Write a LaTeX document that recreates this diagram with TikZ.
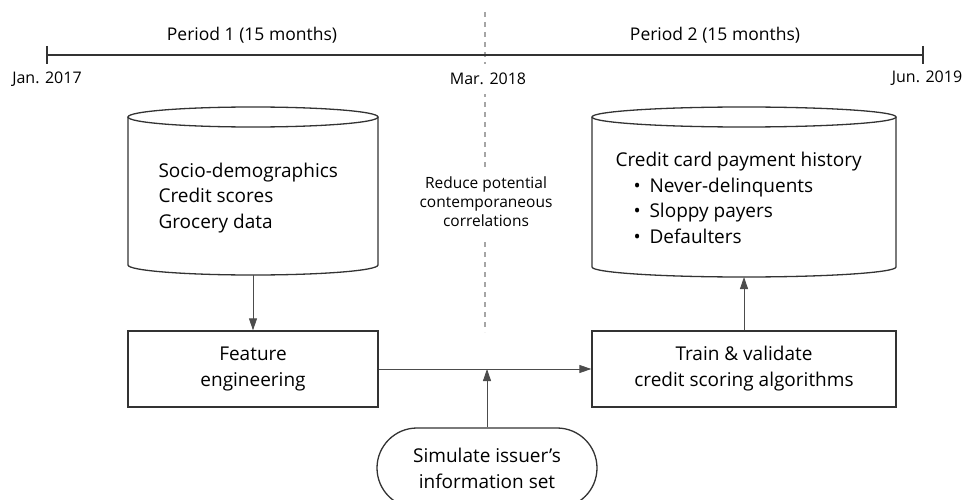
\documentclass[tikz,border=0pt]{standalone}
\usepackage{fontspec}
\setmainfont{Open Sans}
\usetikzlibrary{arrows.meta}

\tikzset{
  box/.style={draw=black!80, line width=1.3pt, minimum height=76pt, align=center,
    font=\fontsize{19}{26}\selectfont},
  link/.style={draw=black!70, line width=0.8pt, -{Triangle[length=12pt,width=8pt]}},
  datelabel/.style={font=\fontsize{16}{20}\selectfont},
  periodlabel/.style={font=\fontsize{17.5}{21}\selectfont},
  drumtext/.style={anchor=west, align=left, font=\fontsize{19}{25.5}\selectfont},
}

% cylinder outline round node #1, half width #2
\newcommand{\drum}[2]{%
  \draw[black!80, line width=1.3pt] ([yshift=-10pt]#1.north west) -- ([yshift=10pt]#1.south west)
    arc[start angle=180, end angle=360, x radius=#2, y radius=10pt]
    -- ([yshift=-10pt]#1.north east);
  \draw[black!80, line width=1.3pt] ([yshift=-10pt]#1.north) ellipse[x radius=#2, y radius=10pt];
}

\begin{document}
\begin{tikzpicture}[x=1pt, y=1pt]
    \useasboundingbox (0,0) rectangle (971,-500);

    % Period split
    \draw[black!35, line width=1.2pt, dash pattern=on 5pt off 5pt] (485,-12) -- (485,-332);

    % Timeline
    \coordinate (t0) at (47,-55);
    \coordinate (t1) at (923,-55);
    \draw[black!80, line width=1.3pt] (t0) -- (t1);
    \draw[black!80, line width=1.3pt] (47,-46) -- (47,-64);
    \draw[black!80, line width=1.3pt] (923,-46) -- (923,-64);

    \node[periodlabel] (p1) at (252,-35) {Period 1 (15 months)};
    \node[periodlabel] (p2) at (715,-35) {Period 2 (15 months)};
    \node[datelabel] (jan) at (47,-79) {Jan. 2017};
    \node[datelabel, fill=white, inner sep=9pt] (mar) at (488,-79) {Mar. 2018};
    \node[datelabel] (jun) at (927,-78) {Jun. 2019};

    % Data sources
    \node[minimum width=250pt, minimum height=168pt, outer sep=0pt] (src) at (253,-191) {};
    \drum{src}{125pt}
    \node[drumtext] (srctext) at (155,-198) {Socio-demographics\\Credit scores\\Grocery data};

    \node[minimum width=304pt, minimum height=170pt, outer sep=0pt] (hist) at (744,-192) {};
    \drum{hist}{152pt}
    \node[drumtext] (histtext) at (612,-198)
      {Credit card payment history\\
       \hspace*{18pt}\makebox[16pt][l]{•}Never-delinquents\\
       \hspace*{18pt}\makebox[16pt][l]{•}Sloppy payers\\
       \hspace*{18pt}\makebox[16pt][l]{•}Defaulters};

    \node[fill=white, inner sep=10pt, align=center, font=\fontsize{15.5}{19}\selectfont] (gap) at (486,-202)
      {Reduce potential\\contemporaneous\\correlations};

    % Steps
    \node[box, minimum width=250pt] (feat) at (253,-369) {Feature\\engineering};
    \node[box, minimum width=304pt] (train) at (744,-369) {Train \& validate\\credit scoring algorithms};
    \node[box, minimum width=220pt, minimum height=80pt, rounded corners=40pt] (sim) at (487,-468)
      {Simulate issuer’s\\information set};

    \coordinate (merge) at (sim.north |- feat.east);

    \draw[link] (src.south) -- (feat.north);
    \draw[link] (feat.east) -- (train.west);
    \draw[link] (sim.north) -- (merge);
    \draw[link] (train.north) -- (hist.south);
\end{tikzpicture}
\end{document}
